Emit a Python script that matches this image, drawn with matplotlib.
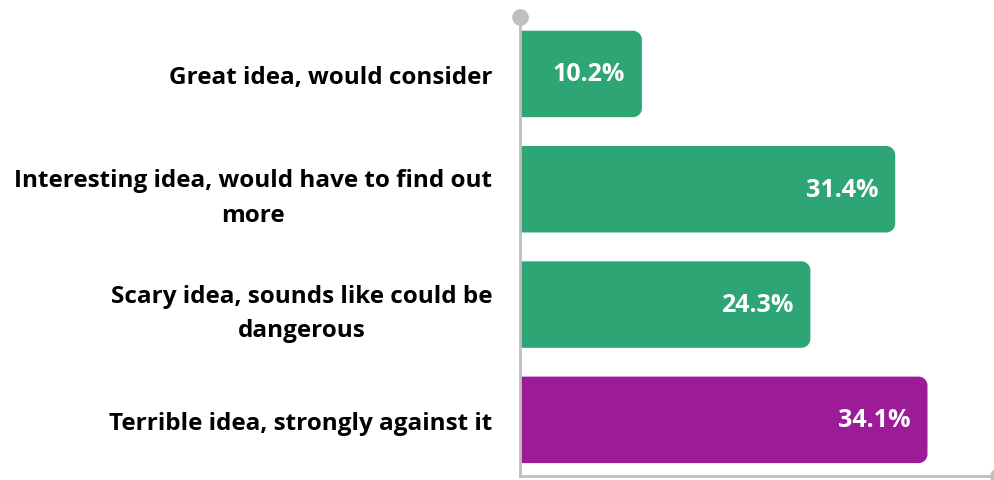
import matplotlib
matplotlib.use("Agg")
import numpy as np
import matplotlib.pyplot as plt
from matplotlib.patches import PathPatch
from matplotlib.path import Path

categories = ["Great idea, would consider",
              "Interesting idea, would have to find out\nmore",
              "Scary idea, sounds like could be\ndangerous",
              "Terrible idea, strongly against it"]
values = [10.2, 31.4, 24.3, 34.1]
labels = ["10.2%", "31.4%", "24.3%", "34.1%"]
colors = ["#2EA575", "#2EA575", "#2EA575", "#9B1C96"]

plt.rcParams['font.family'] = ['Open Sans', 'DejaVu Sans']

W, H = 995, 481
fig = plt.figure(figsize=(W / 100, H / 100), dpi=100)
ax_left, ax_right, ax_top, ax_bottom = 520, 998, 18, 477
ax = fig.add_axes([ax_left / W, (H - ax_bottom) / H, (ax_right - ax_left) / W, (ax_bottom - ax_top) / H])

xmax = 40
ylo, yhi = 3.487, -0.494
ax.set_xlim(0, xmax)
ax.set_ylim(ylo, yhi)

ypos = list(range(len(categories)))
bh = 0.75
bars = ax.barh(ypos, values, height=bh, color=colors)

xpp = xmax / (ax_right - ax_left)
ypp = (ylo - yhi) / (ax_bottom - ax_top)
r_px = 9
rx, ry = r_px * xpp, r_px * ypp
for b, c in zip(bars, colors):
    x, y, w, h = b.get_x(), b.get_y(), b.get_width(), b.get_height()
    b.set_visible(False)
    x1 = x + w
    y0, y1 = y, y + h
    t1 = np.linspace(-np.pi / 2, 0, 12)
    t2 = np.linspace(0, np.pi / 2, 12)
    pts = [(x, y0)]
    pts += [(x1 - rx + rx * np.cos(t), y0 + ry + ry * np.sin(t)) for t in t1]
    pts += [(x1 - rx + rx * np.cos(t), y1 - ry + ry * np.sin(t)) for t in t2]
    pts += [(x, y1), (x, y0)]
    ax.add_patch(PathPatch(Path(pts, closed=True), facecolor=c, edgecolor='none', zorder=2))

for yi, v, lab in zip(ypos, values, labels):
    ax.text(v - 17 * xpp, yi, lab, ha='right', va='center', color='white',
            fontsize=18, fontweight='bold', zorder=3)

ax.set_yticks(ypos)
ax.set_yticklabels(categories, fontsize=17.5, fontweight='bold', multialignment='center',
                   linespacing=1.6)
ax.tick_params(axis='y', length=0, pad=20)
ax.set_xticks([])

for s in ['top', 'right']:
    ax.spines[s].set_visible(False)
for s in ['left', 'bottom']:
    ax.spines[s].set_color('#BFBFBF')
    ax.spines[s].set_linewidth(2)
    ax.spines[s].set_zorder(4)

ax.plot([0], [1], marker='o', markersize=11, color='#BFBFBF', transform=ax.transAxes, clip_on=False, zorder=5)
ax.plot([1], [0], marker='o', markersize=11, color='#BFBFBF', transform=ax.transAxes, clip_on=False, zorder=5)

fig.savefig("out.png", dpi=100)
